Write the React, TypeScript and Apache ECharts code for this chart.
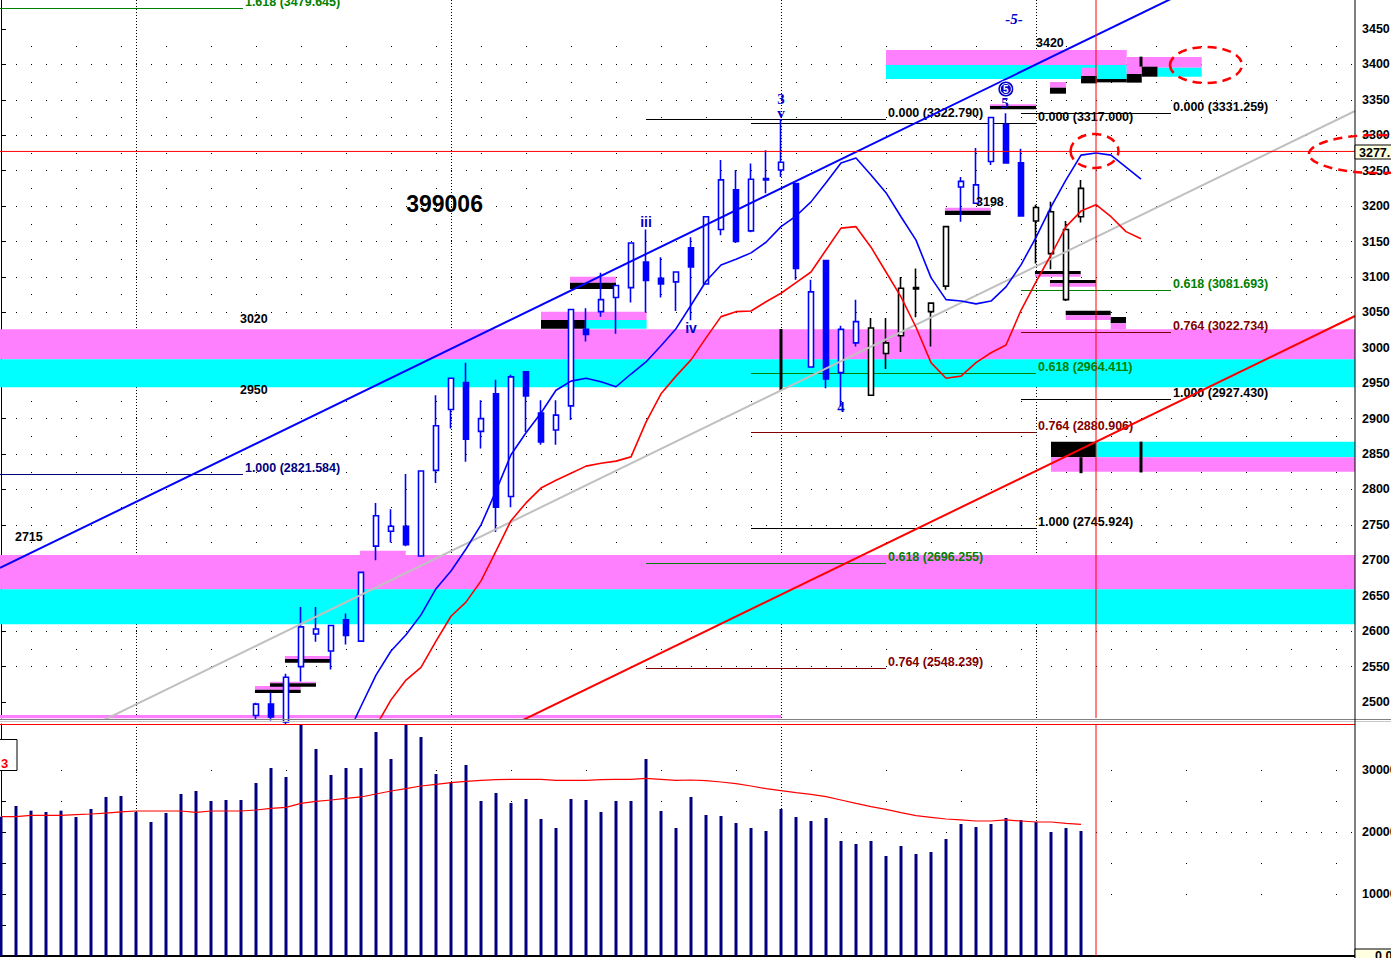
import React, { useEffect, useRef } from 'react';
import * as echarts from 'echarts';

// ---------------- data ----------------
const SYMBOL = '399006';

const PRICE_TICKS = [2500, 2550, 2600, 2650, 2700, 2750, 2800, 2850, 2900, 2950, 3000, 3050, 3100, 3150, 3200, 3250, 3300, 3350, 3400, 3450];
const PRICE_MID_ROWS = [2525, 2575, 2625, 2675, 2725, 2775, 2825, 2875, 2925, 2975, 3025, 3075, 3125, 3175, 3225, 3275, 3325, 3375, 3425, 3475];
const VOLUME_TICKS = [5000, 10000, 15000, 20000, 25000, 30000, 35000];
const VOLUME_LABELS = [10000, 20000, 30000];
const VOLUME_MAIN_ROWS = [10000, 20000, 30000];
const MONTH_STARTS = [9, 30, 52, 69];

const FIRST_CANDLE = 17;
const OPEN = [2481, 2497, 2472, 2550, 2596, 2572, 2616, 2586, 2720, 2741, 2748, 2706, 2827, 2913, 2951, 2882, 2935, 2790, 2966, 2908, 2884, 2918, 3026, 3051, 3071, 3085, 3121, 3098, 3093, 3141, 3090, 3167, 3223, 3165, 3237, 3251, 3232, 2973, 3123, 2965, 3007, 3028, 3007, 3017, 3083, 3051, 3087, 3227, 3204, 3263, 3315, 3261, 3179, 3192, 3068, 3185];
const CLOSE = [2497, 2479, 2535, 2606, 2603, 2608, 2594, 2683, 2763, 2748, 2722, 2826, 2890, 2957, 2871, 2900, 2775, 2959, 2932, 2867, 2905, 3054, 3019, 3068, 3088, 3148, 3095, 3090, 3107, 3114, 3185, 3237, 3150, 3238, 3239, 3262, 3112, 3079, 2956, 3026, 3037, 2933, 2992, 3084, 3085, 3063, 3171, 3235, 3230, 3325, 3261, 3186, 3198, 3133, 3167, 3225];
const LOW = [2475, 2474, 2468, 2529, 2585, 2546, 2581, 2585, 2700, 2725, 2720, 2705, 2809, 2886, 2839, 2858, 2740, 2775, 2881, 2863, 2863, 2898, 3009, 3044, 3020, 3064, 3050, 3071, 3052, 3039, 3089, 3159, 3148, 3163, 3218, 3241, 3096, 2973, 2943, 2917, 3002, 2932, 2970, 2994, 3043, 3002, 3082, 3178, 3203, 3258, 3260, 3185, 3119, 3111, 3066, 3177];
const HIGH = [2499, 2513, 2540, 2634, 2634, 2608, 2625, 2684, 2781, 2772, 2822, 2827, 2933, 2958, 2979, 2926, 2955, 2962, 2967, 2926, 2926, 3055, 3056, 3106, 3088, 3148, 3167, 3128, 3108, 3156, 3186, 3265, 3251, 3260, 3279, 3323, 3233, 3096, 3123, 3031, 3068, 3042, 3042, 3100, 3112, 3063, 3171, 3241, 3282, 3326, 3331, 3281, 3202, 3206, 3179, 3237];
const BLACK_CANDLES = [58, 59, 60, 61, 62, 63, 69, 70, 71, 72];

const VOLUME = [22470, 24190, 23440, 23230, 23440, 22420, 23710, 25650, 25810, 23230, 21610, 23060, 26130, 26610, 25000, 25160, 25160, 27900, 30320, 28870, 37260, 33390, 29190, 30320, 30320, 36130, 31770, 37580, 35320, 29350, 28060, 30810, 25000, 26290, 24680, 25320, 22100, 20650, 25320, 25160, 23230, 25000, 25000, 31770, 23390, 20650, 25650, 22740, 22580, 21450, 20650, 20160, 23710, 22420, 21770, 22260, 18550, 18060, 18550, 16130, 17740, 16450, 16770, 18870, 21290, 20810, 21290, 22260, 21940, 21610, 20000, 20650, 20160];
const VOLUME_MA = [22470, 22470, 22690, 22690, 22690, 22800, 22900, 23060, 23230, 23390, 23390, 23390, 23390, 23170, 23390, 23390, 23390, 23550, 23820, 23980, 24620, 24940, 25160, 25430, 25650, 26130, 26610, 26990, 27420, 27690, 27960, 28170, 28330, 28440, 28490, 28490, 28490, 28330, 28330, 28330, 28440, 28490, 28490, 28650, 28490, 28330, 28390, 28280, 28060, 27800, 27420, 26990, 26670, 26340, 26080, 25700, 25160, 24620, 24090, 23660, 23120, 22630, 22370, 22100, 21940, 21770, 21770, 21940, 21770, 21610, 21610, 21400, 21240];

const FAST_MA_START = 22;
const FAST_MA = [2404, 2449, 2494, 2538, 2572, 2595, 2623, 2660, 2685, 2716, 2750, 2798, 2849, 2880, 2908, 2940, 2953, 2957, 2952, 2945, 2963, 2980, 3003, 3027, 3060, 3094, 3117, 3125, 3134, 3149, 3171, 3186, 3206, 3233, 3261, 3268, 3244, 3219, 3185, 3152, 3099, 3068, 3066, 3062, 3066, 3086, 3117, 3156, 3199, 3237, 3272, 3275, 3272, 3255, 3238];
const SLOW_MA_START = 25;
const SLOW_MA = [2466, 2503, 2531, 2549, 2586, 2621, 2641, 2671, 2713, 2756, 2781, 2802, 2813, 2823, 2833, 2837, 2840, 2846, 2895, 2935, 2960, 2983, 3014, 3044, 3051, 3052, 3065, 3077, 3092, 3107, 3138, 3169, 3171, 3142, 3107, 3072, 3029, 2979, 2957, 2960, 2979, 2993, 3004, 3053, 3093, 3131, 3171, 3193, 3202, 3185, 3164, 3154];

// trend lines: [barFrom, priceFrom, barTo, priceTo]
const CHANNEL_LINE = [-0.067, 2689.2, 79.93, 3512.4];
const SUPPORT_LINE = [34, 2466.4, 90.27, 3044.9];
const BASE_LINE = [6, 2465.7, 90.27, 3334.3];

const CURSOR_PRICE = 3277.2;
const CURSOR_BAR = 73;

// fibonacci levels: [barFrom, barTo, ratio, price, tone]
const FIB_LEVELS: [number, number, string, number, string][] = [
  [-0.067, 16.13, '1.618', 3479.645, 'g'],
  [-0.067, 16.13, '1.000', 2821.584, 'n'],
  [43, 59, '0.000', 3322.79, 'k'],
  [43, 59, '0.618', 2696.255, 'g'],
  [43, 59, '0.764', 2548.239, 'r'],
  [50, 69, '0.000', 3317.0, 'k'],
  [50, 69, '0.618', 2964.411, 'g'],
  [50, 69, '0.764', 2880.906, 'r'],
  [50, 69, '1.000', 2745.924, 'k'],
  [68, 78, '0.000', 3331.259, 'k'],
  [68, 78, '0.618', 3081.693, 'g'],
  [68, 78, '0.764', 3022.734, 'r'],
  [68, 78, '1.000', 2927.43, 'k'],
];

// zones: [barFrom, barTo, priceTop, priceBottom, kind]
const K_MIN = -1 / 15;
const K_MAX = K_MIN + 1355 / 15;
const ZONES: [number, number, number, number, string][] = [
  [K_MIN, K_MAX, 3026.1, 2983.8, 'm'],
  [K_MIN, K_MAX, 2983.8, 2944.2, 'c'],
  [K_MIN, K_MAX, 2707.5, 2659.1, 'm'],
  [K_MIN, K_MAX, 2659.1, 2609.7, 'c'],
  [K_MIN, 52, 2481.6, 2477.0, 'm'],
  [59, 75.05, 3420.4, 3399.2, 'm'],
  [59, 75.05, 3399.2, 3379.4, 'c'],
  [75.05, 80.05, 3410.5, 3395.4, 'm'],
  [77.1, 80.05, 3395.4, 3382.7, 'c'],
  [72, 73.05, 3395.4, 3383.7, 'm'],
  [72, 73.05, 3383.7, 3373.3, 'k'],
  [73.05, 75.05, 3379.4, 3374.7, 'k'],
  [75.05, 76.05, 3399.2, 3386.5, 'm'],
  [75.05, 76.05, 3386.5, 3374.3, 'k'],
  [76.05, 77.1, 3396.8, 3382.7, 'k'],
  [70, 73, 2867.5, 2845.5, 'k'],
  [73, K_MAX, 2867.5, 2845.5, 'c'],
  [70, K_MAX, 2845.5, 2825.1, 'm'],
  [16.93, 19.98, 2522.6, 2517.4, 'm'],
  [16.93, 19.98, 2517.4, 2512.7, 'k'],
  [17.93, 21, 2528.7, 2526.4, 'm'],
  [17.93, 21, 2526.4, 2521.6, 'k'],
  [18.93, 21.93, 2564.9, 2560.7, 'm'],
  [18.93, 21.93, 2560.7, 2555.5, 'k'],
  [23.93, 26.98, 2713.6, 2707.5, 'm'],
  [37.93, 41, 3100.4, 3091.9, 'm'],
  [37.93, 41, 3091.9, 3083.0, 'k'],
  [36, 43.04, 3051.0, 3039.2, 'm'],
  [36, 38.93, 3039.2, 3027.0, 'k'],
  [38.93, 43.04, 3039.2, 3027.0, 'c'],
  [62.93, 65.98, 3197.8, 3193.5, 'm'],
  [62.93, 65.98, 3193.5, 3187.5, 'k'],
  [65.93, 69, 3343.7, 3341.3, 'm'],
  [65.93, 69, 3341.3, 3336.7, 'k'],
  [69.93, 71, 3375.2, 3367.2, 'm'],
  [69.93, 71, 3367.2, 3358.7, 'k'],
  [68.93, 71.98, 3108.4, 3103.7, 'k'],
  [68.93, 71.98, 3103.7, 3100.4, 'm'],
  [69.93, 73, 3095.7, 3091.0, 'k'],
  [69.93, 73, 3091.0, 3086.3, 'm'],
  [70.98, 73.98, 3052.4, 3045.9, 'k'],
  [70.98, 73.98, 3045.9, 3039.2, 'm'],
  [73.98, 75, 3043.5, 3034.6, 'k'],
  [73.98, 75, 3034.6, 3026.1, 'm'],
];

// vertical projection marks: [bar, priceTop, priceBottom]
const MARKS: [number, number, number][] = [
  [52, 3026.5, 2940.4],
  [72, 2845.5, 2823.0],
  [76, 2867.5, 2824.0],
  [76, 3411.0, 3397.0],
];

// text annotations: [bar, price, text, kind]
const LABELS: [number, number, string, string][] = [
  [29.57, 3203.7, SYMBOL, 'title'],
  [15.93, 3040.7, '3020', 'level'],
  [15.93, 2940.4, '2950', 'level'],
  [0.93, 2732.9, '2715', 'level'],
  [69, 3430.3, '3420', 'level'],
  [65, 3205.8, '3198', 'level'],
  [43, 3178.0, 'iii', 'roman'],
  [46, 3027.5, 'iv', 'roman'],
  [52, 3351.2, '3', 'wave'],
  [52, 3332.1, 'v', 'wave'],
  [56, 2916.4, '4', 'wave'],
  [66.93, 3344.9, '5', 'wave'],
  [67.53, 3464.1, '-5-', 'waveItalic'],
];
const CIRCLED: [number, number, string][] = [[66.99, 3365.3, '5']];

// ---------------- layout / style ----------------
const PRICE_MIN = 2477.41;
const PRICE_MAX = 3490.97;
const VOL_MAX = 37419;
const FONT = '"Liberation Sans", Arial, sans-serif';
const SERIF = '"Liberation Serif", "Times New Roman", serif';
const BLUE = '#0000ff';
const ZONE_FILL: Record<string, string> = { m: '#ff80ff', c: '#00ffff', k: '#000000' };
const FIB_COLOR: Record<string, string> = { k: '#000000', g: '#008000', r: '#800000', n: '#000080' };
const LABEL_STYLE: Record<string, any> = {
  title: { font: `bold 23px ${FONT}`, fill: '#000', align: 'center' },
  level: { font: `bold 12.5px ${FONT}`, fill: '#000', align: 'left' },
  roman: { font: `bold 14px ${FONT}`, fill: '#0000cc', align: 'center' },
  wave: { font: `bold 15px ${SERIF}`, fill: '#0000cc', align: 'center' },
  waveItalic: { font: `italic bold 15px ${SERIF}`, fill: '#0000cc', align: 'center' },
};
const plain = (v: number) => String(v);

function buildOption() {
  const candleData = OPEN.map((o, i) => {
    const k = FIRST_CANDLE + i;
    const item: any = { value: [k, o, CLOSE[i], LOW[i], HIGH[i]] };
    if (BLACK_CANDLES.includes(k)) {
      item.itemStyle = { color: '#ffffff', color0: '#000000', borderColor: '#000000', borderColor0: '#000000' };
    }
    return item;
  });

  const xAxisFor = (gridIndex: number) => ({
    type: 'value',
    gridIndex,
    min: K_MIN,
    max: K_MAX,
    axisLine: { show: gridIndex === 1, onZero: false, lineStyle: { color: '#000', width: 2 } },
    axisTick: { show: false },
    axisLabel: { show: false },
    splitLine: { show: false },
  });

  const lineSeries = (data: number[][], color: string, width: number, z = 4, xi = 0, yi = 0) => ({
    type: 'line',
    xAxisIndex: xi,
    yAxisIndex: yi,
    data,
    showSymbol: false,
    symbol: 'none',
    silent: true,
    z,
    lineStyle: { color, width },
  });

  const monthSeries = (xi: number, yi: number, lo: number, hi: number) => ({
    type: 'custom', xAxisIndex: xi, yAxisIndex: yi, z: 0, silent: true,
    data: MONTH_STARTS.map((k) => [k, lo]),
    renderItem: (params: any, api: any) => {
      const k = MONTH_STARTS[params.dataIndex];
      const a = api.coord([k, hi]);
      const b = api.coord([k, lo]);
      const x = Math.round(a[0]) + 0.5;
      return { type: 'line', shape: { x1: x, y1: a[1], x2: x, y2: b[1] }, style: { stroke: '#000', lineWidth: 1, lineDash: [1, 2] } };
    },
  });

  const hiddenRowAxis = (gridIndex: number, max: number, min: number, rows: number[], dash: number[]) => ({
    type: 'value', gridIndex, position: 'right', offset: 0, min, max,
    axisLine: { show: false, lineStyle: { opacity: 0 } },
    axisTick: { show: false, customValues: rows, lineStyle: { opacity: 0 } },
    axisLabel: { show: false },
    splitLine: { show: true, showMinLine: false, showMaxLine: false, lineStyle: { color: '#000', width: 1, type: dash, dashOffset: 14 } },
  });

  return {
    animation: false,
    backgroundColor: '#ffffff',
    grid: [
      { left: 0, top: 0, width: 1355, height: 718, outerBoundsMode: 'none', containLabel: false },
      { left: 0, top: 724, width: 1355, height: 232, outerBoundsMode: 'none', containLabel: false },
    ],
    xAxis: [xAxisFor(0), xAxisFor(1)],
    yAxis: [
      {
        type: 'value', gridIndex: 0, position: 'right', min: PRICE_MIN, max: PRICE_MAX,
        axisLine: { show: true, lineStyle: { color: '#000', width: 1 } },
        axisTick: { show: true, customValues: PRICE_TICKS, length: 5, lineStyle: { color: '#000' } },
        axisLabel: { customValues: PRICE_TICKS, formatter: plain, color: '#000', fontWeight: 'bold', fontSize: 12.5, fontFamily: FONT, margin: 7 },
        splitLine: { show: true, showMinLine: false, showMaxLine: false, lineStyle: { color: '#000', width: 1, type: [1, 14], dashOffset: 14 } },
      },
      hiddenRowAxis(0, PRICE_MAX, PRICE_MIN, PRICE_MID_ROWS, [1, 44]),
      {
        type: 'value', gridIndex: 1, position: 'right', min: 0, max: VOL_MAX,
        axisLine: { show: true, lineStyle: { color: '#000', width: 1 } },
        axisTick: { show: true, customValues: VOLUME_TICKS, length: 5, lineStyle: { color: '#000' } },
        axisLabel: { customValues: VOLUME_LABELS, formatter: plain, color: '#000', fontWeight: 'bold', fontSize: 12.5, fontFamily: FONT, margin: 7 },
        splitLine: { show: true, showMinLine: false, showMaxLine: false, lineStyle: { color: '#000', width: 1, type: [1, 74], dashOffset: 14 } },
      },
      hiddenRowAxis(1, VOL_MAX, 0, VOLUME_MAIN_ROWS, [1, 14]),
    ],
    series: [
      monthSeries(0, 0, PRICE_MIN, PRICE_MAX),
      monthSeries(1, 2, 0, VOL_MAX),
      {
        type: 'custom', xAxisIndex: 0, yAxisIndex: 0, z: 1, silent: true,
        data: ZONES.map((z) => [z[0], z[2]]),
        renderItem: (params: any, api: any) => {
          const z = ZONES[params.dataIndex];
          const a = api.coord([z[0], z[2]]);
          const b = api.coord([z[1], z[3]]);
          return { type: 'rect', shape: { x: a[0], y: a[1], width: b[0] - a[0], height: b[1] - a[1] }, style: { fill: ZONE_FILL[z[4]] } };
        },
      },
      {
        type: 'custom', xAxisIndex: 0, yAxisIndex: 0, z: 2, silent: true, clip: false,
        data: FIB_LEVELS.map((f) => [f[0], f[3]]),
        renderItem: (params: any, api: any) => {
          const f = FIB_LEVELS[params.dataIndex];
          const a = api.coord([f[0], f[3]]);
          const b = api.coord([f[1], f[3]]);
          const y = Math.round(a[1]) + 0.5;
          const color = FIB_COLOR[f[4]];
          return {
            type: 'group',
            children: [
              { type: 'line', shape: { x1: Math.max(a[0], 0), y1: y, x2: b[0], y2: y }, style: { stroke: color, lineWidth: 1 } },
              { type: 'text', x: b[0] + 2, y: y, style: { text: `${f[2]} (${f[3].toFixed(3)})`, fill: color, font: `bold 12.5px ${FONT}`, align: 'left', verticalAlign: 'bottom' } },
            ],
          };
        },
      },
      {
        type: 'custom', xAxisIndex: 0, yAxisIndex: 0, z: 3, silent: true,
        data: MARKS.map((m) => [m[0], m[1]]),
        renderItem: (params: any, api: any) => {
          const m = MARKS[params.dataIndex];
          const a = api.coord([m[0], m[1]]);
          const b = api.coord([m[0], m[2]]);
          return { type: 'line', shape: { x1: a[0], y1: a[1], x2: b[0], y2: b[1] }, style: { stroke: '#000', lineWidth: 3 } };
        },
      },
      {
        type: 'candlestick', xAxisIndex: 0, yAxisIndex: 0, z: 3, silent: true,
        barWidth: 6,
        data: candleData,
        itemStyle: { color: '#ffffff', color0: BLUE, borderColor: BLUE, borderColor0: BLUE, borderWidth: 1.6 },
      },
      lineSeries([[CHANNEL_LINE[0], CHANNEL_LINE[1]], [CHANNEL_LINE[2], CHANNEL_LINE[3]]], BLUE, 2),
      lineSeries([[SUPPORT_LINE[0], SUPPORT_LINE[1]], [SUPPORT_LINE[2], SUPPORT_LINE[3]]], '#ff0000', 2),
      lineSeries([[BASE_LINE[0], BASE_LINE[1]], [BASE_LINE[2], BASE_LINE[3]]], '#c0c0c0', 2),
      lineSeries(FAST_MA.map((v, i) => [FAST_MA_START + i, v]), BLUE, 1.6),
      lineSeries(SLOW_MA.map((v, i) => [SLOW_MA_START + i, v]), '#ff0000', 1.6),
      lineSeries([[K_MIN, CURSOR_PRICE], [K_MAX, CURSOR_PRICE]], '#ff0000', 1, 5),
      lineSeries([[CURSOR_BAR, PRICE_MIN], [CURSOR_BAR, PRICE_MAX]], '#ff0000', 1, 5),
      {
        type: 'custom', xAxisIndex: 0, yAxisIndex: 0, z: 6, silent: true, clip: false,
        data: LABELS.map((l) => [l[0], l[1]]),
        renderItem: (params: any, api: any) => {
          const l = LABELS[params.dataIndex];
          const p = api.coord([l[0], l[1]]);
          const s = LABEL_STYLE[l[3]];
          return { type: 'text', x: p[0], y: p[1], style: { text: l[2], fill: s.fill, font: s.font, align: s.align, verticalAlign: 'middle' } };
        },
      },
      {
        type: 'custom', xAxisIndex: 0, yAxisIndex: 0, z: 6, silent: true, clip: false,
        data: CIRCLED.map((c) => [c[0], c[1]]),
        renderItem: (params: any, api: any) => {
          const c = CIRCLED[params.dataIndex];
          const p = api.coord([c[0], c[1]]);
          return {
            type: 'group',
            children: [
              { type: 'circle', shape: { cx: p[0], cy: p[1], r: 8 }, style: { fill: '#0000cc', stroke: '#ffffff', lineWidth: 1 } },
              { type: 'circle', shape: { cx: p[0], cy: p[1], r: 5.5 }, style: { fill: 'none', stroke: '#ffffff', lineWidth: 1 } },
              { type: 'text', x: p[0], y: p[1] + 0.5, style: { text: c[2], fill: '#ffffff', font: `bold 10px ${FONT}`, align: 'center', verticalAlign: 'middle' } },
            ],
          };
        },
      },
      {
        type: 'bar', xAxisIndex: 1, yAxisIndex: 2, z: 3, silent: true,
        barWidth: 3,
        data: VOLUME.map((v, i) => [i, v]),
        itemStyle: { color: '#000080' },
      },
      lineSeries(VOLUME_MA.map((v, i) => [i, v]), '#ff0000', 1.2, 4, 1, 2),
      lineSeries([[CURSOR_BAR, 0], [CURSOR_BAR, VOL_MAX]], '#ff0000', 1, 5, 1, 2),
    ],
    graphic: [
      { type: 'line', z: 100, silent: true, shape: { x1: 0, y1: 719.5, x2: 1391, y2: 719.5 }, style: { stroke: '#808080', lineWidth: 1 } },
      { type: 'line', z: 100, silent: true, shape: { x1: 0, y1: 721.5, x2: 1391, y2: 721.5 }, style: { stroke: '#c8c8c8', lineWidth: 1 } },
      { type: 'line', z: 100, silent: true, shape: { x1: 0, y1: 724.5, x2: 1355, y2: 724.5 }, style: { stroke: '#ff0000', lineWidth: 1 } },
      { type: 'line', z: 100, silent: true, shape: { x1: 1355, y1: 0, x2: 1355, y2: 958 }, style: { stroke: '#000', lineWidth: 1 } },
      { type: 'ellipse', z: 100, silent: true, shape: { cx: 1206, cy: 65, rx: 36, ry: 18 }, style: { fill: 'none', stroke: '#ff0000', lineWidth: 2.5, lineDash: [9, 6] } },
      { type: 'ellipse', z: 100, silent: true, shape: { cx: 1094.5, cy: 151, rx: 24, ry: 17 }, style: { fill: 'none', stroke: '#ff0000', lineWidth: 2.5, lineDash: [9, 6] } },
      { type: 'rect', z: 101, silent: true, shape: { x: 1355, y: 145, width: 40, height: 14 }, style: { fill: '#ffffe1', stroke: '#000', lineWidth: 1 } },
      { type: 'text', z: 102, silent: true, x: 1359, y: 152.5, style: { text: '3277.', fill: '#000', font: `bold 12.5px ${FONT}`, verticalAlign: 'middle' } },
      { type: 'ellipse', z: 103, silent: true, shape: { cx: 1378, cy: 154, rx: 69, ry: 19 }, style: { fill: 'none', stroke: '#ff0000', lineWidth: 2.5, lineDash: [9, 6] } },
      { type: 'rect', z: 101, silent: true, shape: { x: 1355, y: 949, width: 40, height: 14 }, style: { fill: '#ffffe1', stroke: '#000', lineWidth: 1 } },
      { type: 'text', z: 102, silent: true, x: 1375, y: 956, style: { text: '0.0', fill: '#000', font: `bold 12.5px ${FONT}`, verticalAlign: 'middle' } },
      { type: 'rect', z: 101, silent: true, shape: { x: -2, y: 739.5, width: 19, height: 31 }, style: { fill: '#ffffff', stroke: '#000', lineWidth: 1 } },
      { type: 'text', z: 102, silent: true, x: 1, y: 763, style: { text: '3', fill: '#ff0000', font: `bold 13px ${FONT}`, verticalAlign: 'middle' } },
    ],
  };
}

export default function App() {
  const ref = useRef<HTMLDivElement>(null);
  useEffect(() => {
    const chart = echarts.init(ref.current as HTMLDivElement, null, { renderer: 'svg' });
    chart.setOption(buildOption() as any);
    return () => chart.dispose();
  }, []);
  return (
    <div
      ref={ref}
      style={{ position: 'fixed', left: 0, top: 0, width: 1391, height: 958, background: '#ffffff' }}
    />
  );
}
